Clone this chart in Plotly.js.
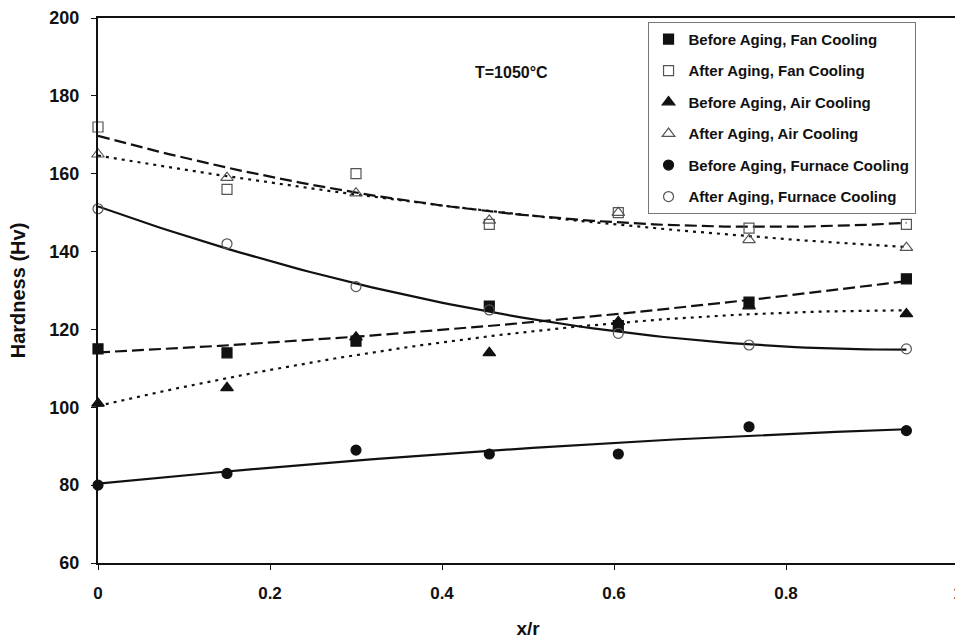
<!DOCTYPE html>
<html>
<head>
<meta charset="utf-8">
<script src="https://cdn.plot.ly/plotly-3.0.1.min.js"></script>
<style>
  html, body { margin: 0; padding: 0; overflow: hidden; background: #fff; }
</style>
</head>
<body>
<div id="chart" style="width:958px;height:644px"></div>
<script>
// Relative position across the section (x/r)
const xr = [0, 0.15, 0.30, 0.455, 0.605, 0.757, 0.94];

// Hardness (Hv) for each cooling mode, before and after aging
const fanBefore     = [115, 114, 117, 126, 121, 127, 133];
const fanAfter      = [172, 156, 160, 147, 150, 146, 147];
const airBefore     = [101, 105, 118, 114, 122, 126, 124];
const airAfter      = [165, 159, 155, 148, 150, 143, 141];
const furnaceBefore = [80, 83, 89, 88, 88, 95, 94];
const furnaceAfter  = [151, 142, 131, 125, 119, 116, 115];

const seriesNames = [
  'Before Aging, Fan Cooling',
  'After Aging, Fan Cooling',
  'Before Aging, Air Cooling',
  'After Aging, Air Cooling',
  'Before Aging, Furnace Cooling',
  'After Aging, Furnace Cooling'
];

const yTicks = [60, 80, 100, 120, 140, 160, 180, 200];
const xTicks = [0, 0.2, 0.4, 0.6, 0.8, 1];
const xTickText = ['0', '0.2', '0.4', '0.6', '0.8', '1'];

// Second-order polynomial trend line (least squares), like a spreadsheet trendline
function quadFit(xs, ys) {
  let s = [0, 0, 0, 0, 0], t = [0, 0, 0];
  for (let i = 0; i < xs.length; i++) {
    const x = xs[i], y = ys[i];
    let p = 1;
    for (let k = 0; k < 5; k++) { s[k] += p; if (k < 3) t[k] += p * y; p *= x; }
  }
  const A = [[s[0], s[1], s[2], t[0]], [s[1], s[2], s[3], t[1]], [s[2], s[3], s[4], t[2]]];
  for (let c = 0; c < 3; c++) {
    for (let r = c + 1; r < 3; r++) {
      const f = A[r][c] / A[c][c];
      for (let k = c; k < 4; k++) A[r][k] -= f * A[c][k];
    }
  }
  const b = [0, 0, 0];
  for (let r = 2; r >= 0; r--) {
    let v = A[r][3];
    for (let k = r + 1; k < 3; k++) v -= A[r][k] * b[k];
    b[r] = v / A[r][r];
  }
  return b;
}

function trend(xs, ys) {
  const b = quadFit(xs, ys);
  const x0 = Math.min(...xs), x1 = Math.max(...xs);
  const tx = [], ty = [];
  for (let i = 0; i <= 80; i++) {
    const x = x0 + (x1 - x0) * i / 80;
    tx.push(x);
    ty.push(b[0] + b[1] * x + b[2] * x * x);
  }
  return { x: tx, y: ty };
}

const FONT = 'Liberation Sans, Arial, sans-serif';
const DASH = '12px,5px';
const DOT = '3px,5px';

const styles = [
  { data: fanBefore,     symbol: 'square',            color: '#111', dash: DASH },
  { data: fanAfter,      symbol: 'square-open',       color: '#555', dash: DASH },
  { data: airBefore,     symbol: 'triangle-up',       color: '#111', dash: DOT },
  { data: airAfter,      symbol: 'triangle-up-open',  color: '#555', dash: DOT },
  { data: furnaceBefore, symbol: 'circle',            color: '#111', dash: 'solid' },
  { data: furnaceAfter,  symbol: 'circle-open',       color: '#555', dash: 'solid' }
];

const traces = [];
// trend lines first, so markers sit on top
styles.forEach((s) => {
  const t = trend(xr, s.data);
  traces.push({
    x: t.x, y: t.y, mode: 'lines', type: 'scatter', showlegend: false,
    hoverinfo: 'skip',
    line: { color: '#111', width: 2.2, dash: s.dash }
  });
});
styles.forEach((s, i) => {
  traces.push({
    x: xr, y: s.data, mode: 'markers', type: 'scatter',
    name: seriesNames[i], legendgroup: 'g' + i, cliponaxis: false,
    marker: {
      symbol: s.symbol, size: s.symbol.indexOf('triangle') === 0 ? 11 : 10,
      color: s.color, line: { color: s.color, width: 1.2 }
    }
  });
});

const layout = {
  width: 958, height: 644,
  margin: { l: 98, r: 0, t: 18, b: 81 },
  paper_bgcolor: '#fff', plot_bgcolor: '#fff',
  font: { family: FONT, color: '#111' },
  showlegend: true,
  legend: {
    x: 0.639, y: 0.993, xanchor: 'left', yanchor: 'top',
    bgcolor: '#fff', bordercolor: '#777', borderwidth: 1,
    traceorder: 'grouped', tracegroupgap: 9,
    font: { family: FONT, size: 15, weight: 'bold', color: '#111' },
    itemwidth: 30
  },
  xaxis: {
    range: [0, 1], tickvals: xTicks, ticktext: xTickText,
    showgrid: false, zeroline: false,
    showline: true, linecolor: '#111', linewidth: 2, mirror: true,
    ticks: 'outside', ticklen: 5, tickcolor: '#111', tickwidth: 1,
    ticklabelstandoff: 9, ticklabeloverflow: 'allow',
    tickfont: { family: FONT, size: 17, weight: 'bold', color: '#111' },
    title: { text: 'x/r', standoff: 19, font: { family: FONT, size: 19, weight: 'bold', color: '#111' } }
  },
  yaxis: {
    range: [60, 200], tickvals: yTicks,
    showgrid: false, zeroline: false,
    showline: true, linecolor: '#111', linewidth: 2, mirror: true,
    ticks: 'outside', ticklen: 5, tickcolor: '#111', tickwidth: 1,
    ticklabelstandoff: 8,
    tickfont: { family: FONT, size: 18, weight: 'bold', color: '#111' },
    title: { text: 'Hardness (Hv)', standoff: 18, font: { family: FONT, size: 20, weight: 'bold', color: '#111' } }
  },
  annotations: [{
    x: 0.481, y: 186, xref: 'x', yref: 'y', showarrow: false,
    text: 'T=1050°C',
    font: { family: FONT, size: 16, weight: 'bold', color: '#111' }
  }]
};

Plotly.newPlot('chart', traces, layout, { staticPlot: true, displayModeBar: false });
</script>
</body>
</html>
